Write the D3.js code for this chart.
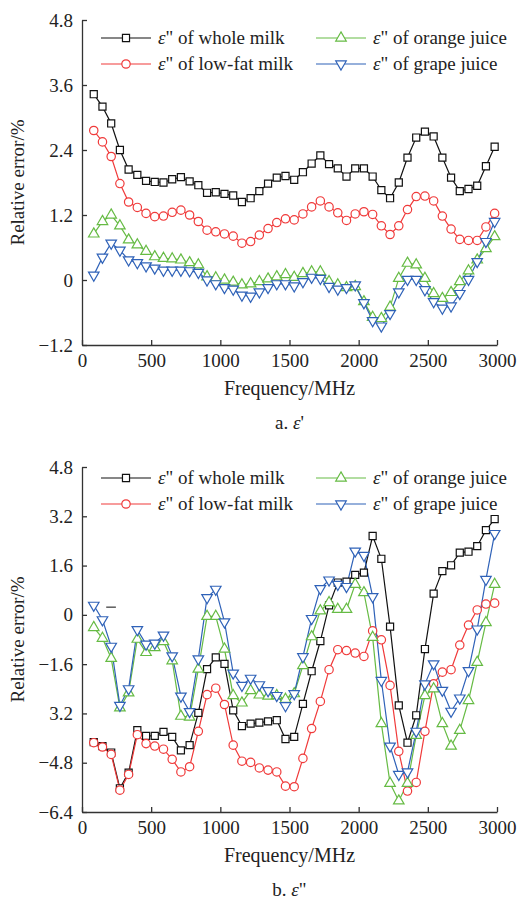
<!DOCTYPE html>
<html>
<head>
<meta charset="utf-8">
<script src="https://cdn.jsdelivr.net/npm/d3@7"></script>
<style>
  body { margin: 0; background: #fff; }
</style>
</head>
<body>
<svg id="chart" width="518" height="899"></svg>
<script>
// Frequencies (MHz) of the measured points
const freqs = [85, 148, 211, 274, 337, 400, 463, 526, 589, 652, 715, 778, 841, 904, 967, 1030,
  1093, 1156, 1219, 1282, 1345, 1408, 1471, 1534, 1597, 1660, 1723, 1786, 1849, 1912, 1975,
  2038, 2101, 2164, 2227, 2290, 2353, 2416, 2479, 2542, 2605, 2668, 2731, 2794, 2857, 2920, 2983];

// a. ε'
const wholeMilkA = [3.43, 3.20, 2.89, 2.40, 2.04, 1.94, 1.83, 1.81, 1.80, 1.86, 1.90, 1.82, 1.75, 1.61, 1.62, 1.59,
  1.56, 1.44, 1.51, 1.64, 1.78, 1.89, 1.92, 1.85, 1.99, 2.15, 2.30, 2.14, 2.06, 1.91, 2.06, 2.06, 1.91,
  1.66, 1.51, 1.80, 2.26, 2.63, 2.74, 2.65, 2.26, 1.89, 1.64, 1.68, 1.74, 2.10, 2.46];
const lowFatA = [2.76, 2.55, 2.28, 1.78, 1.44, 1.34, 1.23, 1.17, 1.18, 1.25, 1.29, 1.20, 1.08, 0.92, 0.89, 0.85,
  0.81, 0.68, 0.71, 0.83, 0.95, 1.06, 1.13, 1.11, 1.22, 1.35, 1.46, 1.35, 1.24, 1.10, 1.22, 1.26, 1.21,
  1.00, 0.84, 1.00, 1.30, 1.54, 1.55, 1.46, 1.18, 0.94, 0.75, 0.73, 0.73, 0.98, 1.23];
const orangeA = [0.85, 1.08, 1.20, 1.00, 0.74, 0.65, 0.53, 0.43, 0.40, 0.39, 0.37, 0.32, 0.28, 0.06, 0.04, 0.00,
  -0.04, -0.09, -0.07, -0.03, 0.02, 0.06, 0.10, 0.05, 0.12, 0.15, 0.15, -0.03, -0.09, -0.14, -0.12, -0.40, -0.69,
  -0.71, -0.50, 0.03, 0.31, 0.28, 0.03, -0.25, -0.34, -0.23, -0.03, 0.17, 0.37, 0.58, 0.80];
const grapeA = [0.09, 0.42, 0.68, 0.55, 0.37, 0.32, 0.26, 0.22, 0.18, 0.18, 0.18, 0.17, 0.14, 0.00, -0.07, -0.14,
  -0.17, -0.28, -0.30, -0.22, -0.14, -0.07, -0.07, -0.11, -0.03, 0.05, 0.03, -0.12, -0.17, -0.14, -0.09, -0.42, -0.75,
  -0.85, -0.62, -0.22, 0.01, 0.01, -0.18, -0.40, -0.52, -0.48, -0.25, 0.01, 0.34, 0.71, 1.08];

// b. ε''
const wholeMilkB = [-4.13, -4.26, -4.47, -5.63, -5.12, -3.74, -3.93, -3.93, -3.80, -3.96, -4.40, -4.23, -3.18, -1.76, -1.38, -1.59,
  -3.10, -3.61, -3.53, -3.50, -3.46, -3.42, -4.03, -3.96, -2.89, -1.83, -0.85, 0.31, 1.05, 1.08, 1.30, 1.37, 2.56,
  1.82, -0.38, -2.94, -4.15, -3.26, -1.11, 0.69, 1.42, 1.61, 2.02, 2.05, 2.23, 2.75, 3.11];
const lowFatB = [-4.15, -4.29, -4.53, -5.69, -5.18, -3.89, -4.18, -4.26, -4.36, -4.69, -5.10, -4.93, -3.78, -2.59, -2.38, -2.91,
  -4.23, -4.75, -4.79, -4.97, -5.04, -5.10, -5.56, -5.58, -4.66, -3.69, -2.81, -1.78, -1.13, -1.16, -1.24, -1.35, -0.52,
  -0.81, -2.29, -4.43, -5.72, -5.44, -3.78, -2.24, -1.86, -1.78, -0.98, -0.33, 0.16, 0.35, 0.38];
const orangeB = [-0.41, -0.76, -1.41, -3.02, -2.53, -0.79, -1.22, -1.06, -0.87, -1.49, -3.29, -3.32, -1.76, -0.05, -0.05, -1.11,
  -2.62, -2.86, -2.46, -2.60, -2.64, -2.62, -2.74, -2.56, -1.65, -0.71, 0.13, 0.40, 0.18, 0.18, 0.99, 0.72, -0.73,
  -3.53, -5.47, -6.04, -5.47, -3.91, -2.62, -2.40, -3.53, -4.26, -3.75, -2.78, -1.54, -0.25, 0.99];
const grapeB = [0.31, -0.16, -1.02, -2.94, -2.40, -0.48, -0.95, -0.92, -0.66, -1.33, -2.64, -3.14, -1.43, 0.56, 0.83, -0.23,
  -1.89, -2.29, -2.06, -2.27, -2.46, -2.62, -2.95, -2.56, -1.36, -0.12, 0.85, 1.13, 0.99, 0.92, 2.07, 1.93, 0.59,
  -2.13, -4.26, -5.18, -5.10, -3.78, -2.24, -1.59, -2.45, -3.13, -2.70, -1.81, -0.46, 1.15, 2.64];

// Ticks
const xTicks = [0, 500, 1000, 1500, 2000, 2500, 3000];
const yTicksA = [4.8, 3.6, 2.4, 1.2, 0, -1.2];
const yLabelsA = ["4.8", "3.6", "2.4", "1.2", "0", "\u22121.2"];
const yTicksB = [4.8, 3.2, 1.6, 0, -1.6, -3.2, -4.8, -6.4];
const yLabelsB = ["4.8", "3.2", "1.6", "0", "\u22121.6", "3.2", "\u22124.8", "\u22126.4"];

const seriesNames = ["whole milk", "low-fat milk", "orange juice", "grape juice"];

const styles = [
  { color: "#111111", symbol: d3.symbolSquare, size: 50, rotate: 0 },
  { color: "#f03a3a", symbol: d3.symbolCircle, size: 55, rotate: 0 },
  { color: "#66bb44", symbol: d3.symbolTriangle, size: 48, rotate: 0 },
  { color: "#2f62b8", symbol: d3.symbolTriangle, size: 48, rotate: 180 }
];

// pick a serif font that is really installed (Times-like first)
function pickFont(list) {
  const ctx = document.createElement("canvas").getContext("2d");
  const probe = "Frequency/MHz 0123456789 whole milk";
  ctx.font = "40px monospace";
  const wMono = ctx.measureText(probe).width;
  ctx.font = "40px sans-serif";
  const wSans = ctx.measureText(probe).width;
  for (const f of list) {
    ctx.font = `40px "${f}", monospace`;
    const a = ctx.measureText(probe).width;
    ctx.font = `40px "${f}", sans-serif`;
    const b = ctx.measureText(probe).width;
    if (a !== wMono || b !== wSans) return `"${f}", serif`;
  }
  return "serif";
}
const serifFont = pickFont(["Liberation Serif", "Times New Roman", "Tinos", "DejaVu Serif", "Noto Serif"]);

const svg = d3.select("#chart").style("font-family", serifFont);

function drawPanel(top, bottom, yDomain, yTicks, yLabels, seriesData, legendY, caption) {
  const left = 82, right = 497;
  const x = d3.scaleLinear().domain([0, 3000]).range([left, right]);
  const y = d3.scaleLinear().domain(yDomain).range([bottom, top]);

  const g = svg.append("g");

  // lines + markers
  seriesData.forEach((vals, i) => {
    const st = styles[i];
    const pts = freqs.map((f, k) => ({ f: f, v: vals[k] }));
    g.append("path")
      .datum(pts)
      .attr("fill", "none")
      .attr("stroke", st.color)
      .attr("stroke-width", 1.2)
      .attr("d", d3.line().x(d => x(d.f)).y(d => y(d.v)));
  });
  seriesData.forEach((vals, i) => {
    const st = styles[i];
    const pts = freqs.map((f, k) => ({ f: f, v: vals[k] }));
    g.selectAll(null)
      .data(pts)
      .enter()
      .append("path")
      .attr("d", d3.symbol().type(st.symbol).size(st.size))
      .attr("transform", d => `translate(${x(d.f)},${y(d.v)}) rotate(${st.rotate})`)
      .attr("fill", "#fff")
      .attr("stroke", st.color)
      .attr("stroke-width", 1.2);
  });

  // axes
  const xAxis = g.append("g")
    .attr("transform", `translate(0,${bottom})`)
    .call(d3.axisBottom(x).tickValues(xTicks).tickFormat(d3.format("d"))
      .tickSizeInner(-5).tickSizeOuter(0).tickPadding(9));
  const yAxis = g.append("g")
    .attr("transform", `translate(${left},0)`)
    .call(d3.axisLeft(y).tickValues(yTicks).tickFormat((d, i) => yLabels[i])
      .tickSizeInner(-5).tickSizeOuter(0).tickPadding(9));
  [xAxis, yAxis].forEach(a => {
    a.attr("font-family", null).attr("font-size", null);
    a.selectAll("path, line").attr("stroke", "#333").attr("stroke-width", 1.3);
    a.selectAll("text").attr("fill", "#222").style("font-size", "19px");
  });

  // axis titles
  g.append("text")
    .attr("transform", `translate(24,${(top + bottom) / 2}) rotate(-90)`)
    .attr("text-anchor", "middle")
    .style("font-size", "19px")
    .attr("fill", "#222")
    .text("Relative error/%");
  g.append("text")
    .attr("x", (left + right) / 2)
    .attr("y", bottom + 50)
    .attr("text-anchor", "middle")
    .style("font-size", "20px")
    .attr("fill", "#222")
    .text("Frequency/MHz");

  // caption
  const cap = g.append("text")
    .attr("x", (left + right) / 2)
    .attr("y", bottom + 84)
    .attr("text-anchor", "middle")
    .style("font-size", "19px")
    .attr("fill", "#222");
  cap.append("tspan").text(caption[0]);
  cap.append("tspan").style("font-style", "italic").text("\u03b5");
  cap.append("tspan").text(caption[1]);

  // legend
  const legendPos = [[101, 0], [101, 1], [316, 0], [316, 1]];
  seriesNames.forEach((name, i) => {
    const st = styles[i];
    const lx = legendPos[i][0];
    const ly = legendY + legendPos[i][1] * 26;
    const lg = g.append("g");
    lg.append("line")
      .attr("x1", lx).attr("x2", lx + 50)
      .attr("y1", ly).attr("y2", ly)
      .attr("stroke", st.color).attr("stroke-width", 1.2);
    lg.append("path")
      .attr("d", d3.symbol().type(st.symbol).size(st.size))
      .attr("transform", `translate(${lx + 25},${ly}) rotate(${st.rotate})`)
      .attr("fill", "#fff")
      .attr("stroke", st.color)
      .attr("stroke-width", 1.2);
    const t = lg.append("text")
      .attr("x", lx + 57)
      .attr("y", ly + 6)
      .style("font-size", "19px")
      .attr("fill", "#222");
    t.append("tspan").style("font-style", "italic").text("\u03b5");
    t.append("tspan").text("\" of " + name);
  });

  return { x: x, y: y, g: g };
}

drawPanel(20, 345, [-1.2, 4.8], yTicksA, yLabelsA,
  [wholeMilkA, lowFatA, orangeA, grapeA], 38, ["a. ", "'"]);

const pb = drawPanel(467, 812, [-6.4, 4.8], yTicksB, yLabelsB,
  [wholeMilkB, lowFatB, orangeB, grapeB], 478, ["b. ", "\""]);

// small stray dash in panel b
pb.g.append("line")
  .attr("x1", pb.x(175)).attr("x2", pb.x(245))
  .attr("y1", pb.y(0.25)).attr("y2", pb.y(0.25))
  .attr("stroke", "#333").attr("stroke-width", 1.2);
</script>
</body>
</html>
